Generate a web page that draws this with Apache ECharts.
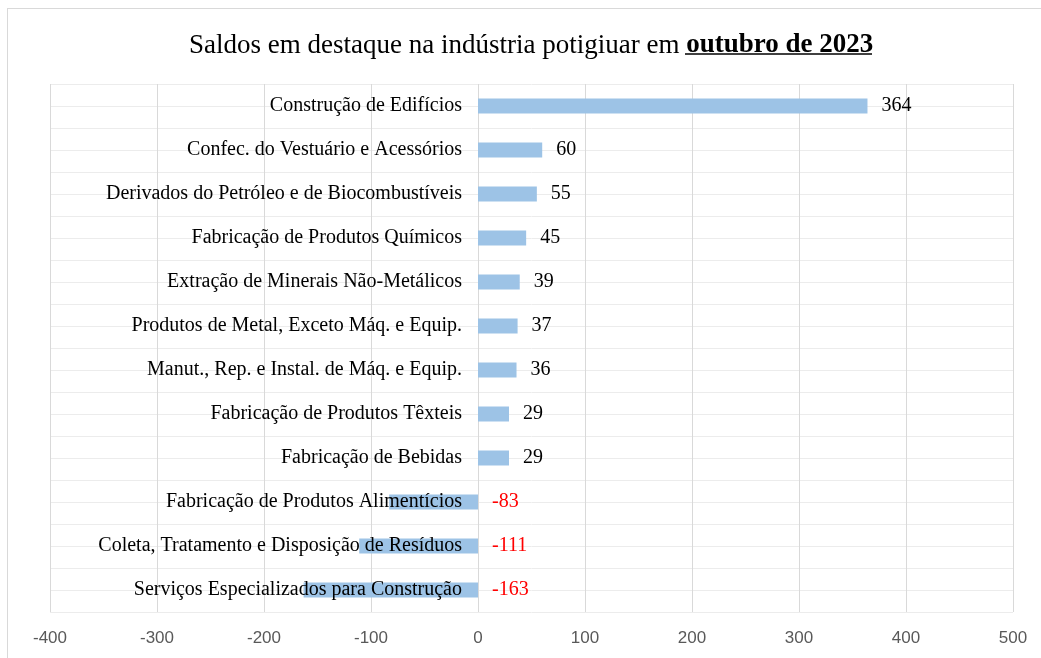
<!DOCTYPE html>
<html>
<head>
    <meta charset="utf-8">
    <title>Saldos em destaque</title>
    <script src="https://cdn.jsdelivr.net/npm/echarts@6/dist/echarts.min.js"></script>
    <style>
        body { margin: 0; background: #fff; }
        #frame { position: absolute; left: 7px; top: 8px; width: 1040px; height: 660px; border: 1px solid #d9d9d9; }
        #main { position: absolute; left: 0; top: 0; width: 1041px; height: 658px; }
    </style>
</head>
<body>
<div id="frame"></div>
<div id="main"></div>
<script type="text/javascript">
    // dados (de baixo para cima no eixo)
    var setores = [
        'Serviços Especializados para Construção',
        'Coleta, Tratamento e Disposição de Resíduos',
        'Fabricação de Produtos Alimentícios',
        'Fabricação de Bebidas',
        'Fabricação de Produtos Têxteis',
        'Manut., Rep. e Instal. de Máq. e Equip.',
        'Produtos de Metal, Exceto Máq. e Equip.',
        'Extração de Minerais Não-Metálicos',
        'Fabricação de Produtos Químicos',
        'Derivados do Petróleo e de Biocombustíveis',
        'Confec. do Vestuário e Acessórios',
        'Construção de Edifícios'
    ];
    var saldos = [-163, -111, -83, 29, 29, 36, 37, 39, 45, 55, 60, 364];

    var serif = '"Liberation Serif", "DejaVu Serif", serif';

    var myChart = echarts.init(document.getElementById('main'));

    myChart.setOption({
        animation: false,
        title: {
            text: '{a|Saldos em destaque na indústria potigiuar em }{b|outubro de 2023}',
            left: 184,
            top: 27,
            textStyle: {
                fontWeight: 'normal',
                rich: {
                    a: { fontFamily: serif, fontSize: 27, color: '#000', fontWeight: 'normal' },
                    b: { fontFamily: serif, fontSize: 27, color: '#000', fontWeight: 'bold' }
                }
            }
        },
        // sublinhado do mês
        graphic: [{
            type: 'line',
            shape: { x1: 685, y1: 54, x2: 872, y2: 54 },
            style: { stroke: '#000', lineWidth: 1.5 }
        }],
        grid: { left: 50, right: 28, top: 84, bottom: 46, containLabel: false, outerBoundsMode: 'none' },
        xAxis: {
            type: 'value',
            min: -400,
            max: 500,
            interval: 100,
            axisLine: { show: false },
            axisTick: { show: false },
            axisLabel: { color: '#595959', fontSize: 17, fontFamily: '"Liberation Sans", sans-serif', margin: 18 },
            splitLine: { lineStyle: { color: '#d9d9d9', width: 1 } }
        },
        yAxis: [{
            type: 'category',
            data: setores,
            axisLine: { show: false },
            axisTick: { show: false },
            splitLine: { show: false },
            axisLabel: { show: false }
        }, {
            // linhas horizontais finas
            type: 'value',
            min: 0,
            max: 24,
            interval: 1,
            position: 'right',
            axisLine: { show: false },
            axisTick: { show: false },
            axisLabel: { show: false },
            splitLine: { lineStyle: { color: '#ececec', width: 1 } }
        }],
        series: [{
            type: 'bar',
            data: saldos.map(function (v) {
                return {
                    value: v,
                    label: { color: v < 0 ? '#ff0000' : '#000' }
                };
            }),
            barWidth: 15,
            itemStyle: { color: '#9dc3e6' },
            label: {
                show: true,
                position: 'right',
                distance: 14,
                fontSize: 20,
                fontFamily: serif
            },
            z: 2
        }, {
            // nomes dos setores ancorados no zero, por cima das barras
            type: 'bar',
            data: setores.map(function () { return 0; }),
            barWidth: 15,
            barGap: '-100%',
            itemStyle: { color: 'transparent' },
            label: {
                show: true,
                position: 'left',
                distance: 16,
                formatter: '{b}',
                color: '#000',
                fontSize: 20,
                fontFamily: serif
            },
            silent: true,
            z: 5
        }]
    });
</script>
</body>
</html>
